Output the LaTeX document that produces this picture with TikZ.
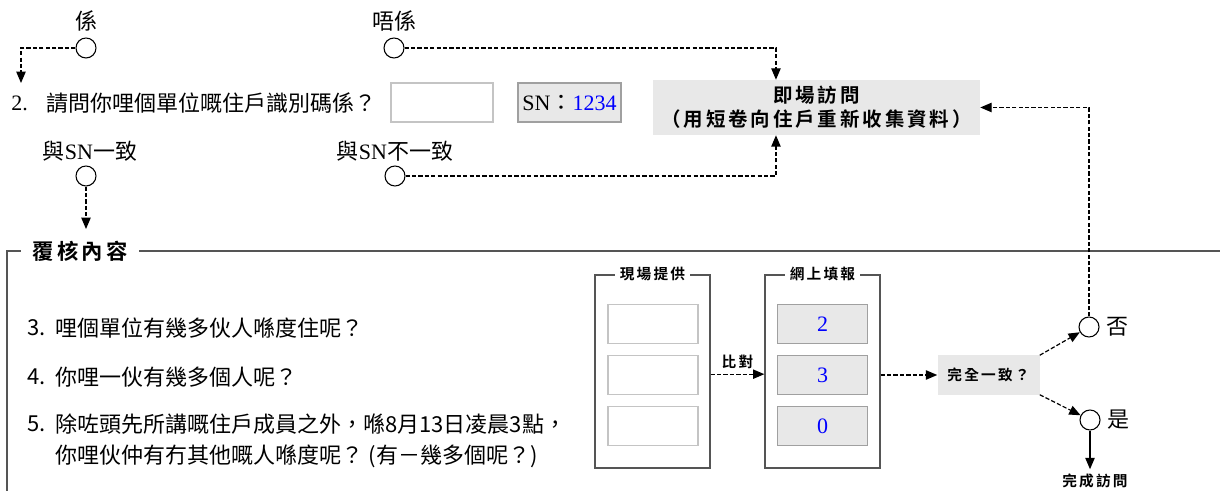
\documentclass[tikz,border=0pt]{standalone}
\usepackage{fontspec}
\setmainfont{Noto Sans CJK TC}
\newfontfamily\tm{Liberation Serif}
\newfontfamily\hd[LetterSpace=15]{Noto Sans CJK TC Bold}
\usetikzlibrary{arrows.meta,positioning}
\definecolor{boxgray}{HTML}{E8E8E8}
\definecolor{edgegray}{HTML}{A0A0A0}
\definecolor{lightedge}{HTML}{C4C4C4}
\definecolor{framegray}{HTML}{555555}
\tikzset{
  txt/.style={inner sep=0pt},
  dline/.style={->, line width=0.9pt, dash pattern=on 3.2pt off 1.6pt},
  pt/.style={circle, draw, line width=0.8pt, minimum size=15pt, inner sep=0pt},
  inbox/.style={draw=lightedge, line width=0.9pt, minimum width=67.5pt, minimum height=29.25pt},
  numbox/.style={draw=edgegray, fill=boxgray, line width=0.9pt, minimum width=67.5pt, minimum height=29.25pt, font=\fontsize{16.5}{18}\tm\color{blue}},
  panel/.style={draw=framegray, line width=1pt, minimum width=86.25pt, minimum height=144.75pt},
  ptitle/.style={fill=white, inner xsep=4pt, inner ysep=1pt, font=\fontsize{11}{13}\hd},
  frame/.style={draw=framegray, line width=1.1pt}
}
\begin{document}
\begin{tikzpicture}[x=0.75pt, y=-0.75pt, >={Triangle[length=8.5pt,width=7pt]}, font=\fontsize{16.5}{20}\selectfont]
\useasboundingbox (0,0) rectangle (1220,491);

% question 2 and its answers
\node[txt, anchor=west] (q2num) at (11,103) {\tm 2.};
\node[txt, anchor=west] (q2) at (46,103) {請問你哩個單位嘅住戶識別碼係？};
\node[draw=lightedge, line width=0.9pt, minimum width=76.5pt, minimum height=29.25pt] (idbox) at (442,102.5) {};
\node[draw=edgegray, fill=boxgray, line width=0.9pt, minimum width=77.25pt, minimum height=29.25pt] (sn) at (569.5,102.5) {{\tm SN}：{\tm\color{blue}1234}};

\node[txt] (lyes) at (86,21) {係};
\node[pt] (yes1) at (86,48) {};
\node[txt] (lno) at (394,21) {唔係};
\node[pt] (no1) at (394,48) {};
\node[txt] (lmatch) at (90,151) {與{\tm SN}一致};
\node[pt] (match) at (86,176) {};
\node[txt] (lnomatch) at (395,151) {與{\tm SN}不一致};
\node[pt] (nomatch) at (395,176) {};

\node[fill=boxgray, minimum width=245.25pt, minimum height=41.25pt, align=center, font=\fontsize{14.6}{18}\hd] (visit) at (816.5,107.5) {即場訪問\\（用短卷向住戶重新收集資料）};

\coordinate (q2in) at (21,83);
\coordinate (frin) at (86,229);
\draw[dline] (yes1.west) -| (q2in);
\draw[dline] (match.south) -- (frin);
\draw[dline] (no1.east) -| ([xshift=-30.4pt]visit.north);
\draw[dline] (nomatch.east) -| ([xshift=-30.4pt]visit.south);

% check section
\draw[frame] (1220,251) -- (7,251) -- (7,491);
\node[fill=white, inner xsep=9pt, inner ysep=2pt, font=\fontsize{16}{18}\hd] (ftitle) at (80,251) {覆核內容};

\node[txt, anchor=west] (q3num) at (27,328) {3.};
\node[txt, anchor=west] (q3) at (55,328) {哩個單位有幾多伙人喺度住呢？};
\node[txt, anchor=west] (q4num) at (27,377) {4.};
\node[txt, anchor=west] (q4) at (55,377) {你哩一伙有幾多個人呢？};
\node[txt, anchor=west] (q5num) at (27,424) {5.};
\node[txt, anchor=west] (q5a) at (55,424) {除咗頭先所講嘅住戶成員之外，喺8月13日凌晨3點，};
\node[txt, anchor=west] (q5b) at (55,456) {你哩伙仲有冇其他嘅人喺度呢？\hspace{4pt}(有－幾多個呢？)};

\node[panel] (onsite) at (652.5,371.5) {};
\node[ptitle] at (onsite.north) {現場提供};
\node[panel] (web) at (822.5,371.5) {};
\node[ptitle] at (web.north) {網上填報};
\foreach \i/\y/\v in {1/324/2, 2/375/3, 3/426/0} {
  \node[inbox] (os\i) at (653,\y) {};
  \node[numbox] (web\i) at (822.5,\y) {\v};
}

\node[fill=boxgray, minimum width=76.5pt, minimum height=29.25pt, font=\fontsize{11}{13}\hd] (check) at (988.5,375) {完全一致？};
\draw[dline] ([yshift=-2pt]onsite.east) -- ([yshift=-2pt]web.west) node[midway, above=0.5pt, font=\fontsize{11}{13}\hd] (cmp) {比對};
\draw[dline] (web.east |- check) -- (check);

\node[pt] (no) at (1089,327) {};
\node[txt, right=5pt of no] (lno2) {否};
\node[pt] (yes) at (1090,420) {};
\node[txt, right=5pt of yes] (lyes2) {是};
\node[font=\fontsize{11}{13}\hd] (done) at (1095,481) {完成訪問};

\draw[dline] (check.north east) -- (no);
\draw[dline] (check.south east) -- (yes);
\draw[->, line width=0.8pt] (yes) -- (yes |- done.north);
\draw[dline] (no) |- (visit.east);
\end{tikzpicture}
\end{document}
